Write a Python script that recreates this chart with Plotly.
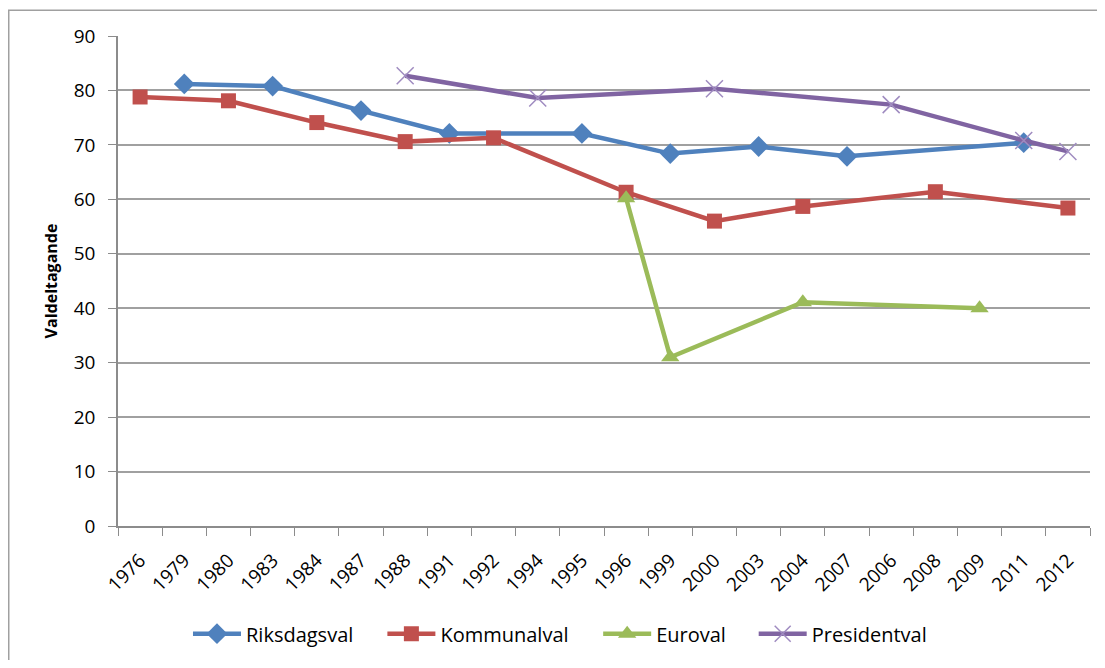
import plotly.graph_objects as go

# Election years (category axis, order as in source)
years = ["1976", "1979", "1980", "1983", "1984", "1987", "1988", "1991", "1992", "1994", "1995",
         "1996", "1999", "2000", "2003", "2004", "2007", "2006", "2008", "2009", "2011", "2012"]

riksdagsval = [None, 81.2, None, 80.8, None, 76.3, None, 72.1, None, None, 72.1,
               None, 68.4, None, 69.7, None, 67.9, None, None, None, 70.4, None]
kommunalval = [78.8, None, 78.1, None, 74.1, None, 70.6, None, 71.3, None, None,
               61.3, None, 56.0, None, 58.7, None, None, 61.4, None, None, 58.4]
euroval = [None, None, None, None, None, None, None, None, None, None, None,
           60.2, 31.0, None, None, 41.1, None, None, None, 40.0, None, None]
presidentval = [None, None, None, None, None, None, 82.7, None, None, 78.6, None,
                None, None, 80.3, None, None, None, 77.4, None, None, 70.8, 68.8]

series = [
    ("Riksdagsval", riksdagsval, "#4F81BD", dict(symbol="diamond", size=16)),
    ("Kommunalval", kommunalval, "#C0504D", dict(symbol="square", size=15)),
    ("Euroval", euroval, "#9BBB59", dict(symbol="triangle-up", size=16)),
    ("Presidentval", presidentval, "#8064A2",
     dict(symbol="x-thin", size=17, line=dict(width=1.5, color="#9F8BC0"))),
]
# one legend per series so entries can be spaced like the original
legend_names = ["legend", "legend2", "legend3", "legend4"]
legend_x = [0.072, 0.272, 0.494, 0.654]

fig = go.Figure()
for (name, vals, color, marker), lg in zip(series, legend_names):
    fig.add_trace(go.Scatter(
        x=years, y=vals, name=name, mode="lines+markers",
        connectgaps=True, legend=lg,
        line=dict(color=color, width=4.5),
        marker=dict(color=color, **marker),
    ))

# page body has an 8px default margin, so the figure is sized to fit inside it
fig.update_layout(
    width=1089, height=652,
    margin=dict(l=110, r=7, t=28, b=131),
    paper_bgcolor="white", plot_bgcolor="white",
    font=dict(family="Open Sans, sans-serif", size=15, color="#000000"),
    showlegend=True,
)
for lg, lx in zip(legend_names, legend_x):
    fig.update_layout({lg: dict(orientation="h", x=lx, xanchor="left", y=-0.18, yanchor="top",
                                font=dict(size=20), itemwidth=48, bgcolor="rgba(0,0,0,0)")})

fig.update_xaxes(
    type="category", range=[-0.5, len(years) - 0.5], automargin=False,
    tickangle=-45, tickson="boundaries", ticks="outside", ticklen=8,
    tickcolor="#8C8C8C", showline=True, linecolor="#8C8C8C", linewidth=1.5,
    showgrid=False, tickfont=dict(size=19), ticklabelstandoff=14,
)
fig.update_yaxes(
    range=[0, 90], dtick=10, ticks="outside", ticklen=8, tickcolor="#8C8C8C",
    showline=True, linecolor="#8C8C8C", linewidth=1.5, automargin=False,
    showgrid=True, gridcolor="#A0A0A0", gridwidth=1.5,
    ticklabelstandoff=9, tickfont=dict(size=19),
    title=dict(text="<b>Valdeltagande</b>", font=dict(size=16), standoff=12),
    zeroline=False,
)
# chart area border
fig.add_shape(type="rect", xref="paper", yref="paper",
              x0=-0.1124, x1=1.03, y0=-0.3, y1=1.0527,
              line=dict(color="#A0A0A0", width=1.5), layer="below")

fig.write_html("out.html")
